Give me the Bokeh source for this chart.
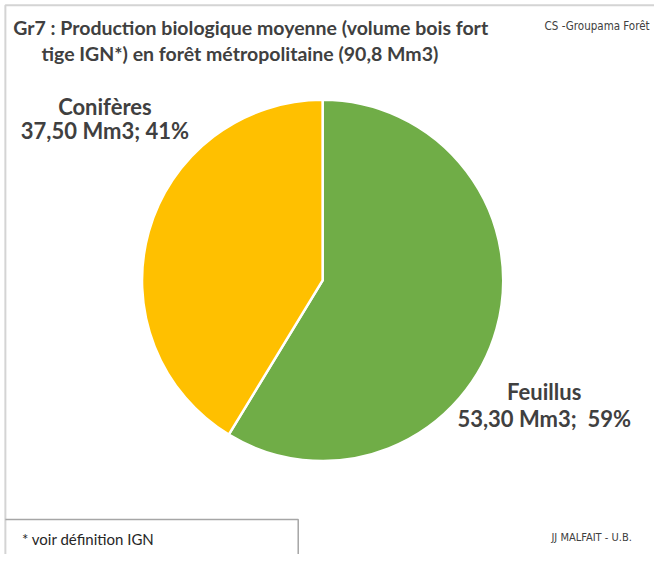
from math import pi
from bokeh.plotting import figure
from bokeh.models import Range1d
from bokeh.core.properties import value
from bokeh.embed import file_html
from bokeh.resources import INLINE

categories = ["Feuillus", "Conifères"]
volumes = [53.30, 37.50]
colors = ["#70AD47", "#FFC000"]
total_label = "90,8 Mm3"

# Figure fits the window; data units are reference-image pixels (670 x 570)
W, H = 654, 554
RW, RH = 670, 570
p = figure(width=W, height=H, output_backend="svg", toolbar_location=None,
           x_range=Range1d(0, RW), y_range=Range1d(0, RH), min_border=0)
p.axis.visible = False
p.grid.visible = False
p.outline_line_color = None
p.background_fill_color = "white"
p.border_fill_color = "white"

def sy(y):
    return RH - y

# outer frame (top and left edges)
p.line(x=[5, 5, RW], y=[0, sy(5), sy(5)], line_color="#d4d4d4", line_width=2)

# pie
total = sum(volumes)
cx, cy, r = 330, sy(288), 185
start = pi / 2
starts, ends = [], []
for v in volumes:
    a = 2 * pi * v / total
    starts.append(start)
    ends.append(start - a)
    start -= a
p.wedge(x=[cx] * len(volumes), y=[cy] * len(volumes), radius=r,
        start_angle=starts, end_angle=ends, direction="clock",
        fill_color=colors, line_color="white", line_width=2.5)

font = value("Lato")
small = value("DejaVu Sans Condensed")
dark = "#404040"

# title
p.text(x=[13], y=[sy(28)], text=["Gr7 : Production biologique moyenne (volume bois fort"],
       text_font=font, text_font_style="bold", text_font_size="19.5px",
       text_color=dark, text_baseline="middle", text_align="left")
p.text(x=[42], y=[sy(55)], text=["tige IGN*) en forêt métropolitaine (" + total_label + ")"],
       text_font=font, text_font_style="bold", text_font_size="19.5px",
       text_color=dark, text_baseline="middle", text_align="left")
p.text(x=[665], y=[sy(26)], text=["CS -Groupama Forêt"],
       text_font=small, text_font_size="11.5px",
       text_color=dark, text_baseline="middle", text_align="right")

# labels
def fmt(v):
    return ("%.2f" % v).replace(".", ",")

pcts = [round(100 * v / total) for v in volumes]
lab_x = [557, 107]
lab_y1 = [sy(402), sy(109)]
lab_y2 = [sy(430), sy(134)]
seps = ";\u00a0 ", "; "
for i, c in enumerate(categories):
    p.text(x=[lab_x[i]], y=[lab_y1[i]], text=[c], text_font=font,
           text_font_style="bold", text_font_size="22px", text_color=dark,
           text_baseline="middle", text_align="center")
    p.text(x=[lab_x[i]], y=[lab_y2[i]],
           text=[fmt(volumes[i]) + " Mm3" + seps[i] + str(pcts[i]) + "%"],
           text_font=font, text_font_style="bold", text_font_size="22px",
           text_color=dark, text_baseline="middle", text_align="center")

# footnote box
p.line(x=[5, 305, 305], y=[sy(534), sy(534), 0], line_color="#a6a6a6", line_width=1.5)
p.text(x=[22], y=[sy(554)], text=["* voir définition IGN"], text_font=font,
       text_font_size="15px", text_color="#262626", text_baseline="middle", text_align="left")
p.text(x=[650], y=[sy(552)], text=["JJ MALFAIT -  U.B."],
       text_font=small, text_font_size="11px",
       text_color=dark, text_baseline="middle", text_align="right")

open("out.html", "w").write(file_html(p, INLINE))
